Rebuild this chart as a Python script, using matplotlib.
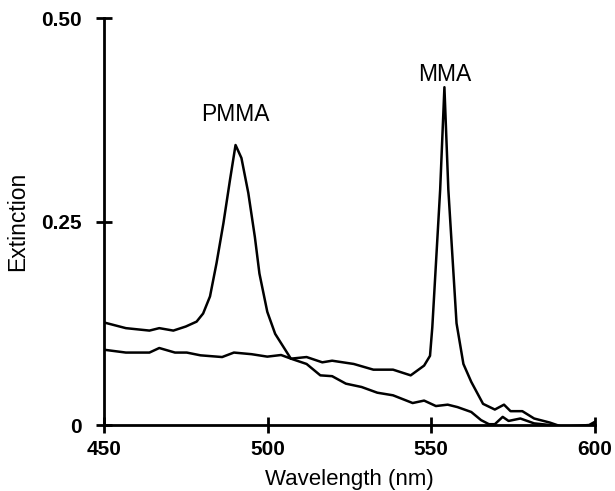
import numpy as np
from matplotlib import pyplot as plt

# spectra
wl_pmma = [450, 456.7, 463.9, 466.9, 471.2, 475.0, 478.3, 480.3, 482.4, 484.4, 486.5,
           488.5, 490.2, 492.0, 494.1, 496.1, 497.5, 499.9, 502.3, 507.1, 511.9,
           516.7, 519.7, 526.3, 532.3, 538.3, 543.7, 547.8, 549.6, 550.3, 552.7,
           554.0, 555.2, 557.7, 559.8, 562.2, 565.8, 569.4, 572.2, 574.2, 577.8,
           581.4, 586.2, 589.8, 594.6, 598.2, 600]
ext_pmma = [0.126, 0.119, 0.116, 0.119, 0.116, 0.121, 0.127, 0.137, 0.158, 0.199, 0.248,
            0.301, 0.344, 0.328, 0.285, 0.231, 0.186, 0.139, 0.112, 0.0815, 0.0835,
            0.077, 0.079, 0.075, 0.068, 0.068, 0.061, 0.073, 0.085, 0.120, 0.289,
            0.415, 0.289, 0.125, 0.075, 0.053, 0.026, 0.019, 0.025, 0.017, 0.017,
            0.008, 0.003, -0.002, -0.001, 0.0, 0.004]

wl_mma = [450, 456.7, 463.9, 466.9, 471.7, 475.3, 479.5, 486.1, 489.7, 495.1, 499.9,
          504.1, 507.7, 511.9, 516.1, 519.7, 523.9, 528.7, 533.5, 538.3, 544.3,
          547.8, 551.4, 555.0, 558.0, 562.2, 565.2, 567.6, 569.4, 571.8, 573.6,
          577.2, 581.4, 586.2, 589.8, 594.6, 598.2, 600]
ext_mma = [0.0925, 0.089, 0.089, 0.0946, 0.089, 0.089, 0.0856, 0.0835, 0.089, 0.087, 0.084,
           0.086, 0.0807, 0.075, 0.061, 0.060, 0.0508, 0.0467, 0.0397, 0.0365, 0.027,
           0.030, 0.0233, 0.025, 0.022, 0.016, 0.006, 0.001, 0.001, 0.010, 0.005,
           0.008, 0.002, 0.0, -0.004, -0.002, -0.001, 0.003]

xticks = [450, 500, 550, 600]
yticks = [0, 0.25, 0.50]
ytick_labels = ['0', '0.25', '0.50']

plt.rcParams['font.family'] = ['Liberation Sans', 'DejaVu Sans']

fig = plt.figure(figsize=(6.15, 4.91), dpi=100)
ax = fig.add_axes([0.169, 0.1344, 0.7985, 0.8289])

ax.plot(wl_pmma, ext_pmma, color='black', lw=1.8)
ax.plot(wl_mma, ext_mma, color='black', lw=1.8)

ax.text(490.2, 0.381, 'PMMA', ha='center', va='center', fontsize=16.5)
ax.text(554.0, 0.43, 'MMA', ha='center', va='center', fontsize=16.5)

ax.set_xlim(450, 600)
ax.set_ylim(0, 0.5)
ax.set_xticks(xticks)
ax.set_yticks(yticks)
ax.set_yticklabels(ytick_labels)

for s in ['top', 'right']:
    ax.spines[s].set_visible(False)
for s in ['left', 'bottom']:
    ax.spines[s].set_linewidth(2)
ax.spines['left'].set_bounds(0, 0.5)
ax.spines['bottom'].set_bounds(450, 600)

ax.tick_params(direction='inout', length=11.5, width=2, labelsize=15)
ax.tick_params(axis='y', pad=10)
ax.tick_params(axis='x', pad=5)
for lab in ax.get_xticklabels() + ax.get_yticklabels():
    lab.set_fontweight('bold')

ax.set_xlabel('Wavelength (nm)', fontsize=16)
ax.set_ylabel('Extinction', fontsize=16.5)
ax.xaxis.set_label_coords(0.5, -0.108)
ax.yaxis.set_label_coords(-0.152, 0.5)

fig.savefig('out.png', dpi=100)
